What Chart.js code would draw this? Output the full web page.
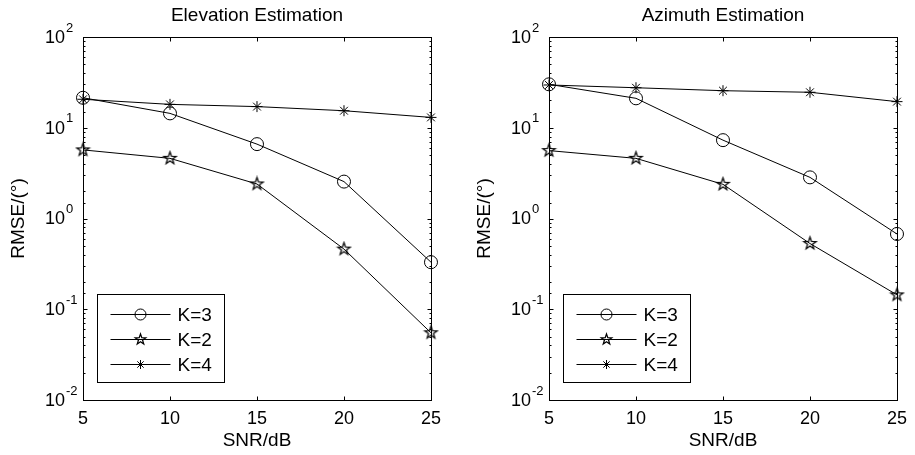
<!DOCTYPE html>
<html>
<head>
<meta charset="utf-8">
<script src="https://cdn.jsdelivr.net/npm/chart.js@4.4.1/dist/chart.umd.min.js"></script>
<style>
  html, body { margin: 0; padding: 0; background: #fff; overflow: hidden; width: 915px; height: 455px; }
  .panel { position: absolute; top: 0; width: 449px; height: 455px; }
</style>
</head>
<body>
<div class="panel" style="left:0"><canvas id="elev" width="449" height="455"></canvas></div>
<div class="panel" style="left:466px"><canvas id="azi" width="449" height="455"></canvas></div>
<script>
// SNR values on the x axis
const snr = [5, 10, 15, 20, 25];

// Elevation estimation RMSE (deg)
const elevK3 = [21.4, 14.4, 6.6, 2.55, 0.33];
const elevK2 = [5.7, 4.6, 2.4, 0.46, 0.055];
const elevK4 = [20.6, 18.1, 17.1, 15.4, 13.0];

// Azimuth estimation RMSE (deg)
const aziK3 = [30.1, 21.1, 7.3, 2.84, 0.675];
const aziK2 = [5.6, 4.6, 2.38, 0.53, 0.144];
const aziK4 = [29.6, 27.6, 25.6, 24.6, 19.4];

const seriesLabels = ["K=3", "K=2", "K=4"];
const yDecadeTicks = [0.01, 0.1, 1, 10, 100];

const FONT = '"Liberation Sans", Arial, sans-serif';
Chart.defaults.font.family = FONT;
Chart.defaults.color = "#000";

// matlab style pentagram marker, unfilled
function pentagram(r) {
  const s = Math.ceil(r * 2 + 4);
  const c = document.createElement("canvas");
  c.width = s;
  c.height = s;
  const g = c.getContext("2d");
  g.translate(s / 2, s / 2);
  g.beginPath();
  for (let i = 0; i < 10; i++) {
    const rad = i % 2 ? r * 0.4 : r;
    const a = -Math.PI / 2 + (i * Math.PI) / 5;
    g.lineTo(rad * Math.cos(a), rad * Math.sin(a));
  }
  g.closePath();
  g.strokeStyle = "#000";
  g.lineWidth = 1.25;
  g.stroke();
  return c;
}
const starImg = pentagram(6.5);
const starImgSmall = pentagram(5.5);

// legend markers are a bit smaller than the data markers
const legendMarkers = [
  { pointStyle: "circle", radius: 5.5 },
  { pointStyle: starImgSmall, radius: 5.5 },
  { pointStyle: "star", radius: 4.5 },
];

const isDecade = (v) => Math.abs(Math.log10(v) - Math.round(Math.log10(v))) < 1e-9;

function seg(ctx, x1, y1, x2, y2) {
  ctx.beginPath();
  ctx.moveTo(x1, y1);
  ctx.lineTo(x2, y2);
  ctx.stroke();
}

// box, inward ticks and 10^n labels
const axesBox = {
  id: "axesBox",
  afterDraw(chart) {
    const { ctx, chartArea: a } = chart;
    const x = chart.scales.x, y = chart.scales.y;
    ctx.save();
    ctx.strokeStyle = "#000";
    ctx.lineWidth = 1;
    const L = Math.round(a.left) + 0.5, R = Math.round(a.right) + 0.5;
    const T = Math.round(a.top) + 0.5, B = Math.round(a.bottom) + 0.5;
    ctx.strokeRect(L, T, R - L, B - T);

    x.ticks.forEach((t) => {
      const px = Math.round(x.getPixelForValue(t.value)) + 0.5;
      seg(ctx, px, B, px, B - 4);
      seg(ctx, px, T, px, T + 4);
    });
    y.ticks.forEach((t) => {
      const py = Math.round(y.getPixelForValue(t.value)) + 0.5;
      const len = isDecade(t.value) ? 4 : 2;
      seg(ctx, L, py, L + len, py);
      seg(ctx, R, py, R - len, py);
    });

    ctx.fillStyle = "#000";
    yDecadeTicks.forEach((v) => {
      const py = y.getPixelForValue(v);
      ctx.font = "18px " + FONT;
      ctx.textAlign = "right";
      ctx.textBaseline = "middle";
      ctx.fillText("10", a.left - 18, py + 1);
      ctx.font = "13px " + FONT;
      ctx.textAlign = "left";
      ctx.fillText(String(Math.round(Math.log10(v))), a.left - 17, py - 9);
    });
    ctx.restore();
  },
};

// matlab legend: line with marker in the middle
const lineLegend = {
  id: "lineLegend",
  afterDraw(chart) {
    const { ctx, chartArea: a } = chart;
    const L = Math.round(a.left) + 14.5, B = Math.round(a.bottom) - 17.5;
    const T = B - 88, R = L + 127;
    ctx.save();
    ctx.fillStyle = "#fff";
    ctx.fillRect(L, T, R - L, B - T);
    ctx.strokeStyle = "#000";
    ctx.lineWidth = 1;
    ctx.strokeRect(L, T, R - L, B - T);
    chart.data.datasets.forEach((ds, i) => {
      const yy = Math.round(T + 19 + i * 25) + 0.5;
      const m = legendMarkers[i];
      ctx.strokeStyle = "#000";
      ctx.lineWidth = 1;
      seg(ctx, L + 13, yy, L + 73, yy);
      ctx.fillStyle = "rgba(0,0,0,0)";
      Chart.helpers.drawPoint(ctx, { pointStyle: m.pointStyle, radius: m.radius, borderWidth: 1, rotation: 0 }, L + 43, yy);
      ctx.fillStyle = "#000";
      ctx.font = "19px " + FONT;
      ctx.textAlign = "left";
      ctx.textBaseline = "middle";
      ctx.fillText(ds.label, L + 80, yy + 1);
    });
    ctx.restore();
  },
};

function series(label, values, style, radius) {
  return {
    label: label,
    data: snr.map((s, i) => ({ x: s, y: values[i] })),
    borderColor: "#000",
    borderWidth: 1,
    pointStyle: style,
    pointRadius: radius,
    pointHoverRadius: radius,
    pointBorderColor: "#000",
    pointBackgroundColor: "rgba(0,0,0,0)",
    pointBorderWidth: 1,
    tension: 0,
    clip: false,
  };
}

function makeChart(id, title, k3, k2, k4) {
  return new Chart(document.getElementById(id), {
    type: "line",
    data: {
      datasets: [
        series(seriesLabels[0], k3, "circle", 6.5),
        series(seriesLabels[1], k2, starImg, 6.5),
        series(seriesLabels[2], k4, "star", 5.5),
      ],
    },
    options: {
      responsive: false,
      animation: false,
      devicePixelRatio: 1,
      layout: { padding: { left: 0, right: 12, top: 0, bottom: 0 } },
      scales: {
        x: {
          type: "linear",
          min: 5,
          max: 25,
          ticks: { stepSize: 5, padding: 8, color: "#000", font: { size: 18 }, maxRotation: 0 },
          grid: { display: false, drawTicks: false },
          border: { display: false },
          title: { display: true, text: "SNR/dB", color: "#000", font: { size: 19 }, padding: { top: 0, bottom: 2.6 } },
          afterFit: (s) => { s.height = 55; },
        },
        y: {
          type: "logarithmic",
          min: 0.01,
          max: 100,
          ticks: { display: false },
          grid: { display: false, drawTicks: false },
          border: { display: false },
          title: { display: true, text: "RMSE/(°)", color: "#000", font: { size: 19 }, padding: { top: 7.6, bottom: 0 } },
          afterFit: (s) => { s.width = 83; },
        },
      },
      plugins: {
        legend: { display: false },
        tooltip: { enabled: false },
        title: {
          display: true,
          text: title,
          color: "#000",
          fullSize: false,
          font: { size: 19, weight: "normal" },
          padding: { top: 4, bottom: 10.2 },
        },
      },
    },
    plugins: [axesBox, lineLegend],
  });
}

makeChart("elev", "Elevation Estimation", elevK3, elevK2, elevK4);
makeChart("azi", "Azimuth Estimation", aziK3, aziK2, aziK4);
</script>
</body>
</html>
